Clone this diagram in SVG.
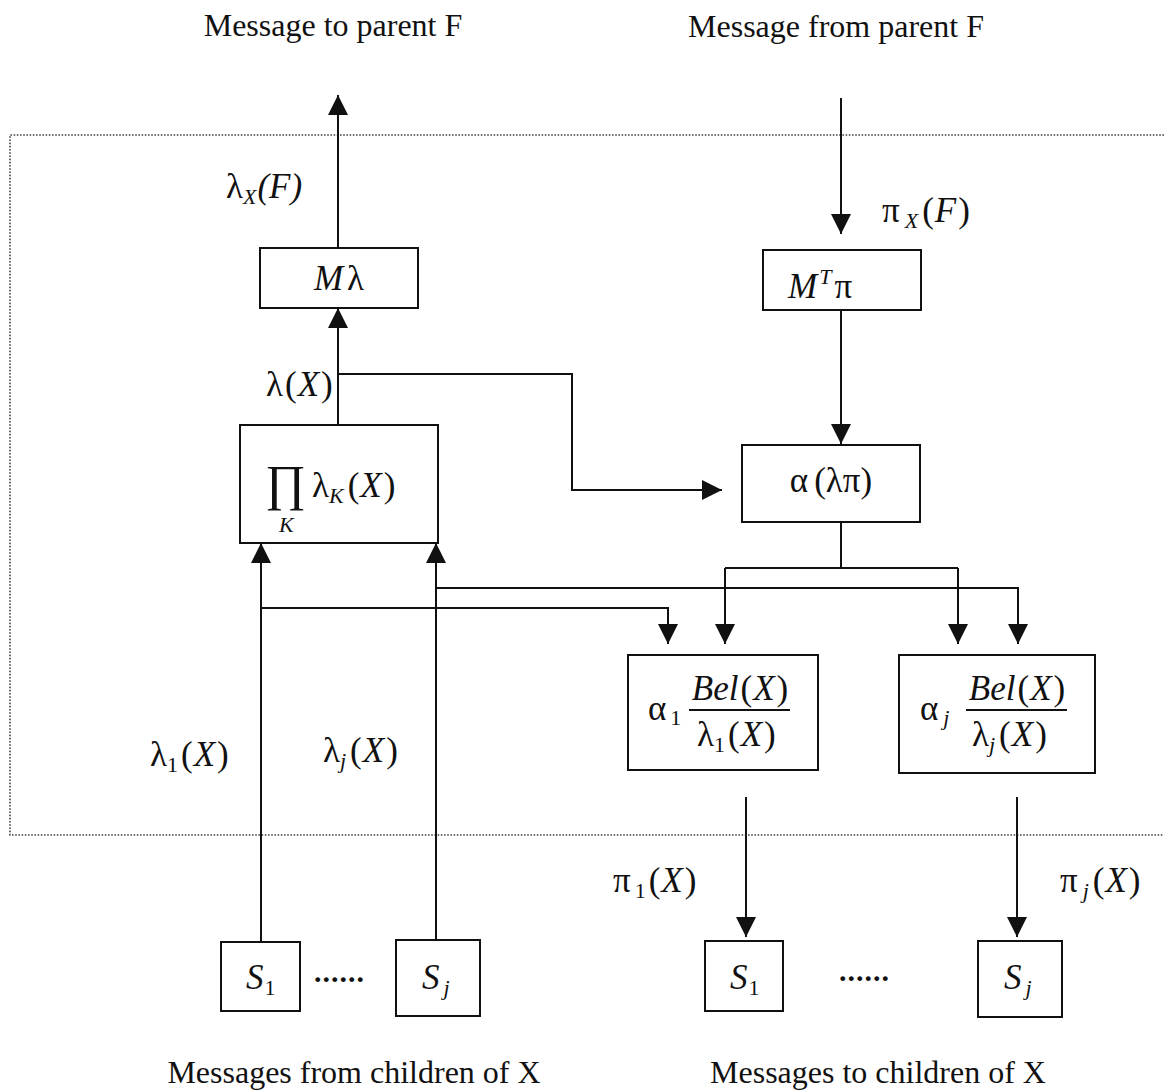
<svg xmlns="http://www.w3.org/2000/svg" width="1164" height="1091" viewBox="0 0 1164 1091">
  <style>
    text { font-family: "Liberation Serif", "Times New Roman", serif; fill: #111; }
    .cap { font-size: 32px; }
    .m { font-size: 35px; }
    .i { font-style: italic; }
    .sub { font-size: 22px; }
    .box { fill: #fff; stroke: #111; stroke-width: 2; }
    .wire { fill: none; stroke: #111; stroke-width: 2; }
    .frame { fill: none; stroke: #444; stroke-width: 1.6; stroke-dasharray: 1.6 1.6; }
    .dots { font-size: 30px; font-weight: bold; letter-spacing: 1px; }
  </style>
  <defs>
    <marker id="arrow" viewBox="0 0 10 10" refX="10" refY="5" markerUnits="userSpaceOnUse" markerWidth="20" markerHeight="20" orient="auto">
      <path d="M0,0 L10,5 L0,10 z" fill="#111"/>
    </marker>
  </defs>

  <rect width="1164" height="1091" fill="#fff"/>

  <!-- boundary of node X (open on the right) -->
  <path class="frame" d="M1164,135 H10 V835 H1164"/>

  <!-- captions -->
  <text class="cap" x="333" y="36" text-anchor="middle">Message to parent F</text>
  <text class="cap" x="836" y="37" text-anchor="middle">Message from parent F</text>
  <text class="cap" x="354" y="1083" text-anchor="middle">Messages from children of X</text>
  <text class="cap" x="878" y="1083" text-anchor="middle">Messages to children of X</text>

  <!-- connectors -->
  <g id="connectors">
    <path class="wire" d="M338,248 V95" marker-end="url(#arrow)"/>
    <path class="wire" d="M338,425 V308" marker-end="url(#arrow)"/>
    <path class="wire" d="M338,374 H572 V490 H722" marker-end="url(#arrow)"/>
    <path class="wire" d="M841,98 V234" marker-end="url(#arrow)"/>
    <path class="wire" d="M841,310 V444" marker-end="url(#arrow)"/>
    <path class="wire" d="M841,522 V568"/>
    <path class="wire" d="M725,568 H958"/>
    <path class="wire" d="M725,568 V644" marker-end="url(#arrow)"/>
    <path class="wire" d="M958,568 V644" marker-end="url(#arrow)"/>
    <path class="wire" d="M261,942 V543" marker-end="url(#arrow)"/>
    <path class="wire" d="M436,940 V543" marker-end="url(#arrow)"/>
    <path class="wire" d="M261,608 H668 V644" marker-end="url(#arrow)"/>
    <path class="wire" d="M436,588 H1018 V644" marker-end="url(#arrow)"/>
    <path class="wire" d="M746,797 V937" marker-end="url(#arrow)"/>
    <path class="wire" d="M1017,797 V937" marker-end="url(#arrow)"/>
  </g>

  <!-- connector labels -->
  <text class="m" x="226" y="198">λ<tspan class="sub i" dy="6">X</tspan><tspan class="i" dx="1" dy="-6">(F)</tspan></text>
  <text class="m" x="266" y="396">λ<tspan dx="2">(</tspan><tspan class="i" dx="1">X</tspan><tspan dx="2">)</tspan></text>
  <text class="m" x="882" y="222">π<tspan class="sub i" dx="5" dy="6">X</tspan><tspan dx="4" dy="-6">(</tspan><tspan class="i" dx="1">F</tspan><tspan dx="2">)</tspan></text>
  <text class="m" x="150" y="766">λ<tspan class="sub" dy="6">1</tspan><tspan dx="3" dy="-6">(</tspan><tspan class="i" dx="1">X</tspan><tspan dx="2">)</tspan></text>
  <text class="m" x="323" y="762">λ<tspan class="sub i" dy="6">j</tspan><tspan dx="4" dy="-6">(</tspan><tspan class="i" dx="1">X</tspan><tspan dx="2">)</tspan></text>
  <text class="m" x="613" y="892">π<tspan class="sub" dx="4" dy="6">1</tspan><tspan dx="3" dy="-6">(</tspan><tspan class="i" dx="1">X</tspan><tspan dx="2">)</tspan></text>
  <text class="m" x="1060" y="892">π<tspan class="sub i" dx="5" dy="6">j</tspan><tspan dx="4" dy="-6">(</tspan><tspan class="i" dx="1">X</tspan><tspan dx="2">)</tspan></text>

  <!-- processing nodes -->
  <g id="node-m-lambda">
    <rect class="box" x="260" y="248" width="158" height="60"/>
    <text class="m" x="339" y="290" text-anchor="middle"><tspan class="i">M</tspan><tspan dx="4">λ</tspan></text>
  </g>

  <g id="node-mt-pi">
    <rect class="box" x="763" y="250" width="158" height="60"/>
    <text class="m" x="788" y="298"><tspan class="i">M</tspan><tspan class="sub i" dx="2" dy="-14">T</tspan><tspan dx="3" dy="14">π</tspan></text>
  </g>

  <g id="node-product">
    <rect class="box" x="240" y="425" width="198" height="118"/>
    <text x="265" y="500" style="font-size:50px">∏</text>
    <text class="sub i" x="279" y="532">K</text>
    <text class="m" x="312" y="497">λ<tspan class="sub i" dy="6">K</tspan><tspan dx="4" dy="-6">(</tspan><tspan class="i" dx="1">X</tspan><tspan dx="2">)</tspan></text>
  </g>

  <g id="node-alpha">
    <rect class="box" x="742" y="445" width="178" height="77"/>
    <text class="m" x="831" y="492" text-anchor="middle">α<tspan dx="6">(</tspan>λπ)</text>
  </g>

  <g id="node-bel-1">
    <rect class="box" x="628" y="655" width="190" height="115"/>
    <text class="m" x="648" y="720">α<tspan class="sub" dx="4" dy="5">1</tspan></text>
    <line class="wire" x1="689" y1="710" x2="790" y2="710"/>
    <text class="m" x="740" y="700" text-anchor="middle"><tspan class="i">Bel</tspan><tspan dx="2">(</tspan><tspan class="i" dx="1">X</tspan><tspan dx="2">)</tspan></text>
    <text class="m" x="697" y="746">λ<tspan class="sub" dy="6">1</tspan><tspan dx="3" dy="-6">(</tspan><tspan class="i" dx="1">X</tspan><tspan dx="2">)</tspan></text>
  </g>

  <g id="node-bel-j">
    <rect class="box" x="899" y="655" width="196" height="118"/>
    <text class="m" x="920" y="720">α<tspan class="sub i" dx="5" dy="5">j</tspan></text>
    <line class="wire" x1="966" y1="710" x2="1067" y2="710"/>
    <text class="m" x="1017" y="700" text-anchor="middle"><tspan class="i">Bel</tspan><tspan dx="2">(</tspan><tspan class="i" dx="1">X</tspan><tspan dx="2">)</tspan></text>
    <text class="m" x="972" y="746">λ<tspan class="sub i" dy="6">j</tspan><tspan dx="4" dy="-6">(</tspan><tspan class="i" dx="1">X</tspan><tspan dx="2">)</tspan></text>
  </g>

  <!-- children of X -->
  <g id="child-in-1">
    <rect class="box" x="221" y="942" width="79" height="69"/>
    <text class="m i" x="246" y="989">S<tspan class="sub" style="font-style:normal" dx="1" dy="6">1</tspan></text>
  </g>
  <text class="dots" x="314" y="982">......</text>
  <g id="child-in-j">
    <rect class="box" x="396" y="940" width="84" height="76"/>
    <text class="m i" x="422" y="989">S<tspan class="sub" dx="4" dy="6">j</tspan></text>
  </g>

  <g id="child-out-1">
    <rect class="box" x="705" y="941" width="78" height="70"/>
    <text class="m i" x="730" y="989">S<tspan class="sub" style="font-style:normal" dx="1" dy="6">1</tspan></text>
  </g>
  <text class="dots" x="839" y="981">......</text>
  <g id="child-out-j">
    <rect class="box" x="978" y="941" width="84" height="76"/>
    <text class="m i" x="1004" y="989">S<tspan class="sub" dx="4" dy="6">j</tspan></text>
  </g>
</svg>
